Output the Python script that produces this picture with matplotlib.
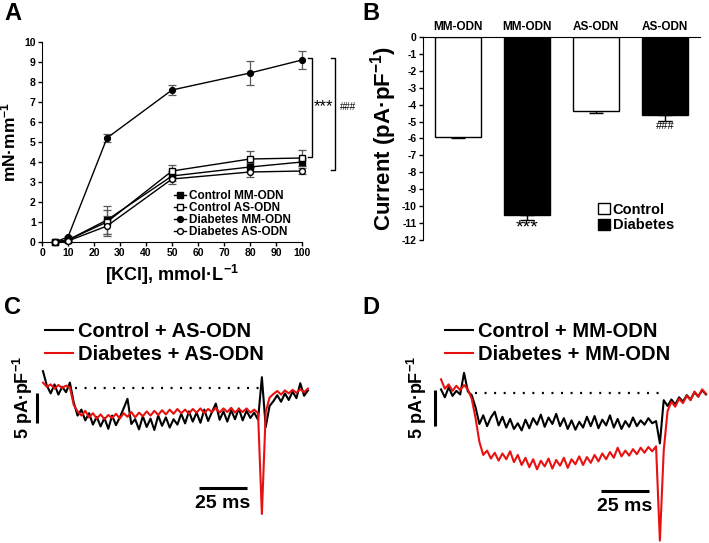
import matplotlib.pyplot as plt
import numpy as np

plt.rcParams['font.family'] = ['Liberation Sans', 'DejaVu Sans']
plt.rcParams['font.weight'] = 'bold'
plt.rcParams['axes.labelweight'] = 'bold'
plt.rcParams['axes.unicode_minus'] = False
plt.rcParams['mathtext.fontset'] = 'custom'
plt.rcParams['mathtext.rm'] = 'Liberation Sans:bold'
plt.rcParams['mathtext.bf'] = 'Liberation Sans:bold'
plt.rcParams['mathtext.it'] = 'Liberation Sans:bold'
plt.rcParams['mathtext.default'] = 'rm'

W, H = 709, 543

# ---- panel A: tension vs KCl ----
kcl = [5, 10, 25, 50, 80, 100]
ctrl_mm = [0, 0.1, 1.1, 3.3, 3.75, 4.0]
ctrl_mm_err = [0, 0.05, 0.7, 0.25, 0.2, 0.2]
ctrl_as = [0, 0.1, 1.0, 3.55, 4.15, 4.2]
ctrl_as_err = [0, 0.05, 0.6, 0.3, 0.4, 0.4]
diab_mm = [0, 0.25, 5.2, 7.6, 8.45, 9.1]
diab_mm_err = [0, 0.05, 0.2, 0.25, 0.6, 0.45]
diab_as = [0, 0.05, 0.8, 3.15, 3.5, 3.55]
diab_as_err = [0, 0.05, 0.5, 0.25, 0.25, 0.15]

# ---- panel B: current bars ----
bar_groups = ['MM-ODN', 'MM-ODN', 'AS-ODN', 'AS-ODN']
bar_cond = ['Control', 'Diabetes', 'Control', 'Diabetes']
current = [-5.9, -10.5, -4.35, -4.6]
current_err = [0.1, 0.3, 0.15, 0.35]

# ---- panels C, D: current traces (pA/pF), one sample every 2 ms ----
trace_t = np.arange(0, 140, 2)
c_ctrl_as = [2.8, 0.4, -0.9, 0.6, -1.1, 0.2, -0.7, 0.9, -2.4, -4.6,
             -3.6, -5.4, -4.2, -6.1, -4.8, -6.4, -5.0, -6.8, -4.6, -6.2,
             -4.9, -3.4, -1.8, -6.0, -5.2, -6.9, -4.7, -6.5, -5.1, -7.0,
             -4.6, -6.3, -4.9, -6.6, -5.2, -6.1, -4.3, -5.9, -3.9, -5.6,
             -4.1, -5.8, -3.6, -5.5, -4.0, -2.6, -5.3, -3.9, -5.6, -3.7,
             -5.2, -3.4, -5.4, -3.8, -5.0, -4.1, -5.3, 1.8, -6.5, -3.0,
             -2.2, -1.2, -2.3, -0.9, -2.0, -0.6, -1.7, 0.8, -1.3, -0.4]
c_diab_as = [0.9, 0.2, 0.6, -0.1, 0.5, 0.0, 0.4, 0.1, -2.8, -3.9,
             -4.6, -3.8, -4.9, -4.2, -5.1, -4.4, -5.2, -4.5, -5.0, -4.3,
             -5.1, -4.2, -4.8, -4.0, -4.9, -4.1, -4.7, -3.9, -4.6, -3.8,
             -4.5, -3.7, -4.4, -3.6, -4.3, -3.5, -4.2, -3.6, -4.3, -3.5,
             -4.1, -3.4, -4.2, -3.5, -4.0, -3.3, -4.1, -3.4, -4.0, -3.3,
             -4.1, -3.5, -4.0, -3.4, -4.1, -3.6, -4.2, -21.0, -4.0, -1.6,
             -1.0, -0.5, -1.1, -0.4, -0.9, -0.3, -0.8, -0.2, -0.7, -0.1]
d_ctrl_mm = [0.5, -0.6, 0.8, -0.4, 0.3, -0.2, 2.8, 0.2, -0.3, -2.0,
             -4.3, -3.1, -4.6, -3.4, -2.6, -4.5, -3.3, -4.8, -3.6, -5.0,
             -4.2, -5.2, -3.7, -4.9, -3.5, -4.4, -3.0, -4.7, -3.4, -4.3,
             -2.9, -4.6, -3.5, -5.0, -3.8, -5.1, -4.0, -4.8, -3.3, -4.6,
             -3.2, -4.9, -3.7, -4.5, -3.1, -4.8, -3.6, -5.0, -3.9, -4.7,
             -3.4, -4.6, -3.8, -4.4, -3.5, -4.2, -3.9, -7.0, -1.0, -1.8,
             -0.9, -1.6, -0.6, -1.2, -0.3, -0.9, 0.1, -0.5, 0.4, -0.2]
d_diab_mm = [1.9, 0.6, 1.2, 0.3, 1.0, 0.4, 1.1, 0.5, -0.8, -3.5,
             -6.8, -8.6, -8.0, -9.1, -8.3, -9.4, -8.4, -9.2, -8.1, -9.6,
             -8.6, -10.0, -9.0, -10.3, -9.2, -10.6, -9.4, -10.2, -9.1, -10.5,
             -9.3, -10.1, -9.0, -10.4, -9.2, -9.9, -8.8, -10.0, -8.9, -9.7,
             -8.6, -9.5, -8.4, -9.2, -8.2, -9.0, -7.6, -8.8, -8.0, -8.7,
             -7.8, -8.5, -7.6, -8.3, -7.5, -8.1, -7.4, -20.5, -8.0, -2.5,
             -1.2, -1.9, -0.8, -1.4, -0.4, -1.0, 0.2, -0.5, 0.5, -0.1]


def px_axes(fig, left, top, right, bottom):
    return fig.add_axes([left / W, 1 - bottom / H, (right - left) / W, (bottom - top) / H])


fig = plt.figure(figsize=(W / 100, H / 100), dpi=100)

# ================= A =================
ax = px_axes(fig, 42, 42, 302, 242)
series = [
    (ctrl_mm, ctrl_mm_err, 's', 'black', 'Control MM-ODN'),
    (ctrl_as, ctrl_as_err, 's', 'white', 'Control AS-ODN'),
    (diab_mm, diab_mm_err, 'o', 'black', 'Diabetes MM-ODN'),
    (diab_as, diab_as_err, 'o', 'white', 'Diabetes AS-ODN'),
]
handles = []
for vals, err, mk, fc, lab in series:
    ax.errorbar(kcl, vals, yerr=err, fmt='none', ecolor='0.35', elinewidth=0.9,
                capsize=2.8, capthick=0.9, clip_on=False, zorder=2)
    h, = ax.plot(kcl, vals, '-', color='black', lw=1, marker=mk, ms=4.2,
                 mfc=fc, mec='black', mew=1, clip_on=False, zorder=3, label=lab)
    handles.append(h)
ax.set_xlim(0, 100)
ax.set_ylim(0, 10)
ax.set_xticks(range(0, 101, 10))
ax.set_yticks(range(0, 11))
ax.spines['top'].set_visible(False)
ax.spines['right'].set_visible(False)
ax.tick_params(labelsize=7.5, length=3, width=1, pad=1.5)
ax.set_ylabel('mN·mm$^{-1}$', fontsize=12.5, labelpad=4)
ax.set_xlabel('[KCl], mmol·L$^{-1}$', fontsize=13, labelpad=3)
ax.legend(handles=handles, loc='lower left', bbox_to_anchor=(0.48, -0.015),
          frameon=False, fontsize=8.5, handlelength=1.0, handletextpad=0.25,
          labelspacing=0.0, borderpad=0.1)
# significance brackets
for xb, ylo, lab, fs, xt in [(103.8, 4.25, '***', 12, 108.3), (112.7, 3.6, '###', 7, 117.6)]:
    ax.plot([xb - 1.5, xb, xb, xb - 1.5], [9.2, 9.2, ylo, ylo], color='black',
            lw=1, clip_on=False)
    ax.text(xt, 6.75, lab, fontsize=fs, fontweight='normal', ha='center', va='center')

fig.text(4 / W, 1 - 14 / H, 'A', fontsize=17, va='center', ha='left')

# ================= B =================
bx = px_axes(fig, 423, 37, 700, 240)
xpos = np.arange(len(current))
bars = bx.bar(xpos, current, width=0.68,
              color=['white' if c == 'Control' else 'black' for c in bar_cond],
              edgecolor='black', linewidth=1, zorder=2)
bx.errorbar(xpos, current, yerr=[current_err, [0] * len(current)], fmt='none',
            ecolor='black', elinewidth=1, capsize=4.7, capthick=1, zorder=1)
bx.set_xlim(-0.507, 3.507)
bx.set_ylim(-12, 0)
bx.set_yticks(range(-12, 1))
bx.spines['bottom'].set_visible(False)
bx.spines['right'].set_visible(False)
bx.xaxis.tick_top()
bx.set_xticks(xpos)
bx.set_xticklabels(bar_groups, fontsize=8.5)
bx.tick_params(axis='x', length=0, pad=3)
bx.tick_params(axis='y', labelsize=7.5, length=3, width=1, pad=1.5)
bx.set_ylabel('Current (pA·pF$^{-1}$)', fontsize=16, labelpad=2)
bx.text(xpos[1], -10.8, '***', fontsize=14, fontweight='normal', ha='center', va='top')
bx.text(xpos[3], -4.95, '###', fontsize=8, fontweight='normal', ha='center', va='top')
bx.legend([bars[0], bars[1]], ['Control', 'Diabetes'], loc='lower left',
          bbox_to_anchor=(0.6, -0.005), frameon=False, fontsize=10.5,
          handlelength=0.8, handleheight=0.8, handletextpad=0.2,
          labelspacing=0.1, borderpad=0.1)
fig.text(362 / W, 1 - 14 / H, 'B', fontsize=17, va='center', ha='left')


# ================= C and D =================
def trace_panel(box, t0_px, y0_px, px_unit, ctrl, diab, labels, vbar, hbar,
                dot_span, leg_xy, ylab_x):
    left, top, right, bottom = box
    ax = px_axes(fig, left, top, right, bottom)
    px_ms = 48 / 25.0
    ax.set_xlim((left - t0_px) / px_ms, (right - t0_px) / px_ms)
    ax.set_ylim((y0_px - bottom) / px_unit, (y0_px - top) / px_unit)
    ax.axis('off')
    ax.plot(trace_t, ctrl, color='black', lw=1.5, zorder=2)
    ax.plot(trace_t, diab, color='#e8110f', lw=1.5, zorder=3)
    ax.plot(dot_span, [0, 0], color='black', lw=1.6, dashes=(0.9, 3.4), zorder=1)
    # scale bars
    ax.plot([vbar[0], vbar[0]], [vbar[1], vbar[1] - 5], color='black', lw=2.2,
            solid_capstyle='butt')
    ax.plot([hbar[0], hbar[0] + 25], [hbar[1], hbar[1]], color='black', lw=2.2,
            solid_capstyle='butt')
    ax.text(hbar[0] + 12.5, hbar[1] - 1.2 / px_unit * 6, '25 ms', fontsize=14,
            ha='center', va='top')
    fig.text(ylab_x / W, 1 - 397 / H, '5 pA·pF$^{-1}$', fontsize=13, rotation=90,
             ha='center', va='center')
    hc_leg, = ax.plot([], [], color='black', lw=1.5)
    hd_leg, = ax.plot([], [], color='#e8110f', lw=1.5)
    fig.legend([hc_leg, hd_leg], labels, loc='upper left',
               bbox_to_anchor=(leg_xy[0] / W, 1 - leg_xy[1] / H),
               frameon=False, fontsize=14.5, handlelength=1.4, handletextpad=0.25,
               labelspacing=0.2, borderpad=0, borderaxespad=0)


trace_panel((20, 318, 330, 530), 43, 388, 6.0, c_ctrl_as, c_diab_as,
            ['Control + AS-ODN', 'Diabetes + AS-ODN'],
            (-3.1, -0.8), (81.25, -16.7), [16.7, 113], (45, 322), 23)
trace_panel((395, 318, 709, 545), 441, 393, 7.2, d_ctrl_mm, d_diab_mm,
            ['Control + MM-ODN', 'Diabetes + MM-ODN'],
            (-3.1, 0.4), (83.3, -13.6), [17.7, 114], (445, 322), 417)

fig.text(4 / W, 1 - 308 / H, 'C', fontsize=17, va='center', ha='left')
fig.text(362 / W, 1 - 308 / H, 'D', fontsize=17, va='center', ha='left')

fig.savefig('out.png', dpi=100)
